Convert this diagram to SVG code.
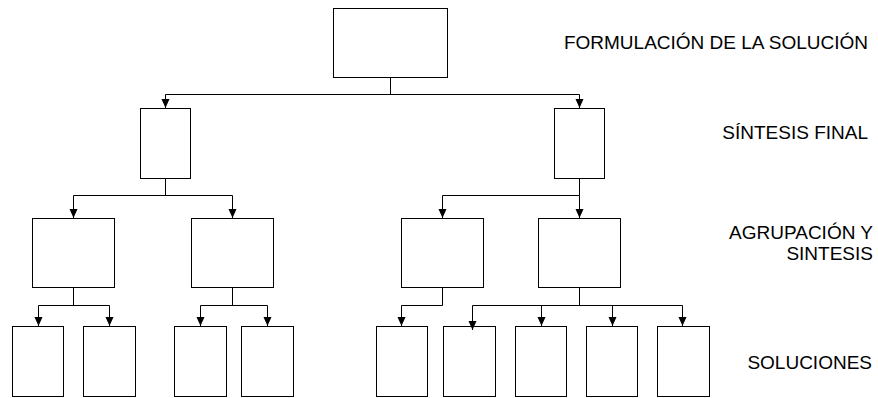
<svg xmlns="http://www.w3.org/2000/svg" width="878" height="398" viewBox="0 0 878 398">
  <style>
    .box { fill: #fff; stroke: #000; stroke-width: 1; }
    .wire { fill: none; stroke: #000; stroke-width: 1; }
    .arrow { marker-end: url(#tip); }
    .lbl { font-family: "Liberation Sans", Arial, sans-serif; font-size: 19px; fill: #000; text-anchor: end; }
  </style>
  <defs>
    <marker id="tip" markerUnits="userSpaceOnUse" markerWidth="10" markerHeight="10" refX="9" refY="4.5" orient="auto">
      <path d="M0,0.5 L9,4.5 L0,8.5 z" fill="#000"/>
    </marker>
  </defs>

  <rect width="878" height="398" fill="#fff"/>

  <!-- level 1 -->
  <g id="root"><rect class="box" x="333.5" y="8.5" width="114" height="69"/></g>

  <!-- level 2 -->
  <g id="final-left"><rect class="box" x="140.5" y="108.5" width="50" height="70"/></g>
  <g id="final-right"><rect class="box" x="554.5" y="108.5" width="50" height="70"/></g>

  <!-- level 3 -->
  <g id="group-a"><rect class="box" x="32.5" y="218.5" width="82" height="69"/></g>
  <g id="group-b"><rect class="box" x="191.5" y="218.5" width="82" height="69"/></g>
  <g id="group-c"><rect class="box" x="401.5" y="218.5" width="82" height="69"/></g>
  <g id="group-d"><rect class="box" x="538.5" y="218.5" width="82" height="69"/></g>

  <!-- level 4 -->
  <g id="sol-1"><rect class="box" x="12.5" y="326.5" width="51" height="70"/></g>
  <g id="sol-2"><rect class="box" x="83.5" y="326.5" width="52" height="70"/></g>
  <g id="sol-3"><rect class="box" x="174.5" y="326.5" width="52" height="70"/></g>
  <g id="sol-4"><rect class="box" x="241.5" y="326.5" width="52" height="70"/></g>
  <g id="sol-5"><rect class="box" x="376.5" y="326.5" width="51" height="70"/></g>
  <g id="sol-6"><rect class="box" x="443.5" y="326.5" width="52" height="70"/></g>
  <g id="sol-7"><rect class="box" x="515.5" y="326.5" width="51" height="70"/></g>
  <g id="sol-8"><rect class="box" x="586.5" y="326.5" width="51" height="70"/></g>
  <g id="sol-9"><rect class="box" x="657.5" y="326.5" width="52" height="70"/></g>

  <g id="connectors">
    <!-- root to final synthesis -->
    <path class="wire" d="M390.5,77.5 V94.5 M165.5,94.5 H579.5"/>
    <path class="wire arrow" d="M165.5,94.5 V108"/>
    <path class="wire arrow" d="M579.5,94.5 V108"/>

    <!-- left synthesis to groups -->
    <path class="wire" d="M165.5,178.5 V195.5 M73.5,195.5 H232.5"/>
    <path class="wire arrow" d="M73.5,195.5 V218"/>
    <path class="wire arrow" d="M232.5,195.5 V218"/>

    <!-- right synthesis to groups -->
    <path class="wire" d="M579.5,178.5 V195.5 H442.5"/>
    <path class="wire arrow" d="M442.5,195.5 V218"/>
    <path class="wire arrow" d="M579.5,195.5 V218"/>

    <!-- group A -->
    <path class="wire" d="M73.5,287.5 V305.5 M38.5,305.5 H109.5"/>
    <path class="wire arrow" d="M38.5,305.5 V326"/>
    <path class="wire arrow" d="M109.5,305.5 V326"/>

    <!-- group B -->
    <path class="wire" d="M232.5,287.5 V305.5 M200.5,305.5 H267.5"/>
    <path class="wire arrow" d="M200.5,305.5 V326"/>
    <path class="wire arrow" d="M267.5,305.5 V326"/>

    <!-- group C -->
    <path class="wire arrow" d="M442.5,287.5 V305.5 H401.5 V326"/>

    <!-- group D -->
    <path class="wire" d="M579.5,287.5 V305.5 M472.5,305.5 H682.5"/>
    <path class="wire arrow" d="M472.5,305.5 V330"/>
    <path class="wire arrow" d="M541.5,305.5 V326"/>
    <path class="wire arrow" d="M612.5,305.5 V326"/>
    <path class="wire arrow" d="M682.5,305.5 V326"/>
  </g>

  <g id="labels">
    <text class="lbl" x="868" y="49">FORMULACIÓN DE LA SOLUCIÓN</text>
    <text class="lbl" x="868" y="139">SÍNTESIS FINAL</text>
    <text class="lbl" x="873" y="239">AGRUPACIÓN Y</text>
    <text class="lbl" x="873" y="260">SINTESIS</text>
    <text class="lbl" x="872" y="369">SOLUCIONES</text>
  </g>
</svg>
